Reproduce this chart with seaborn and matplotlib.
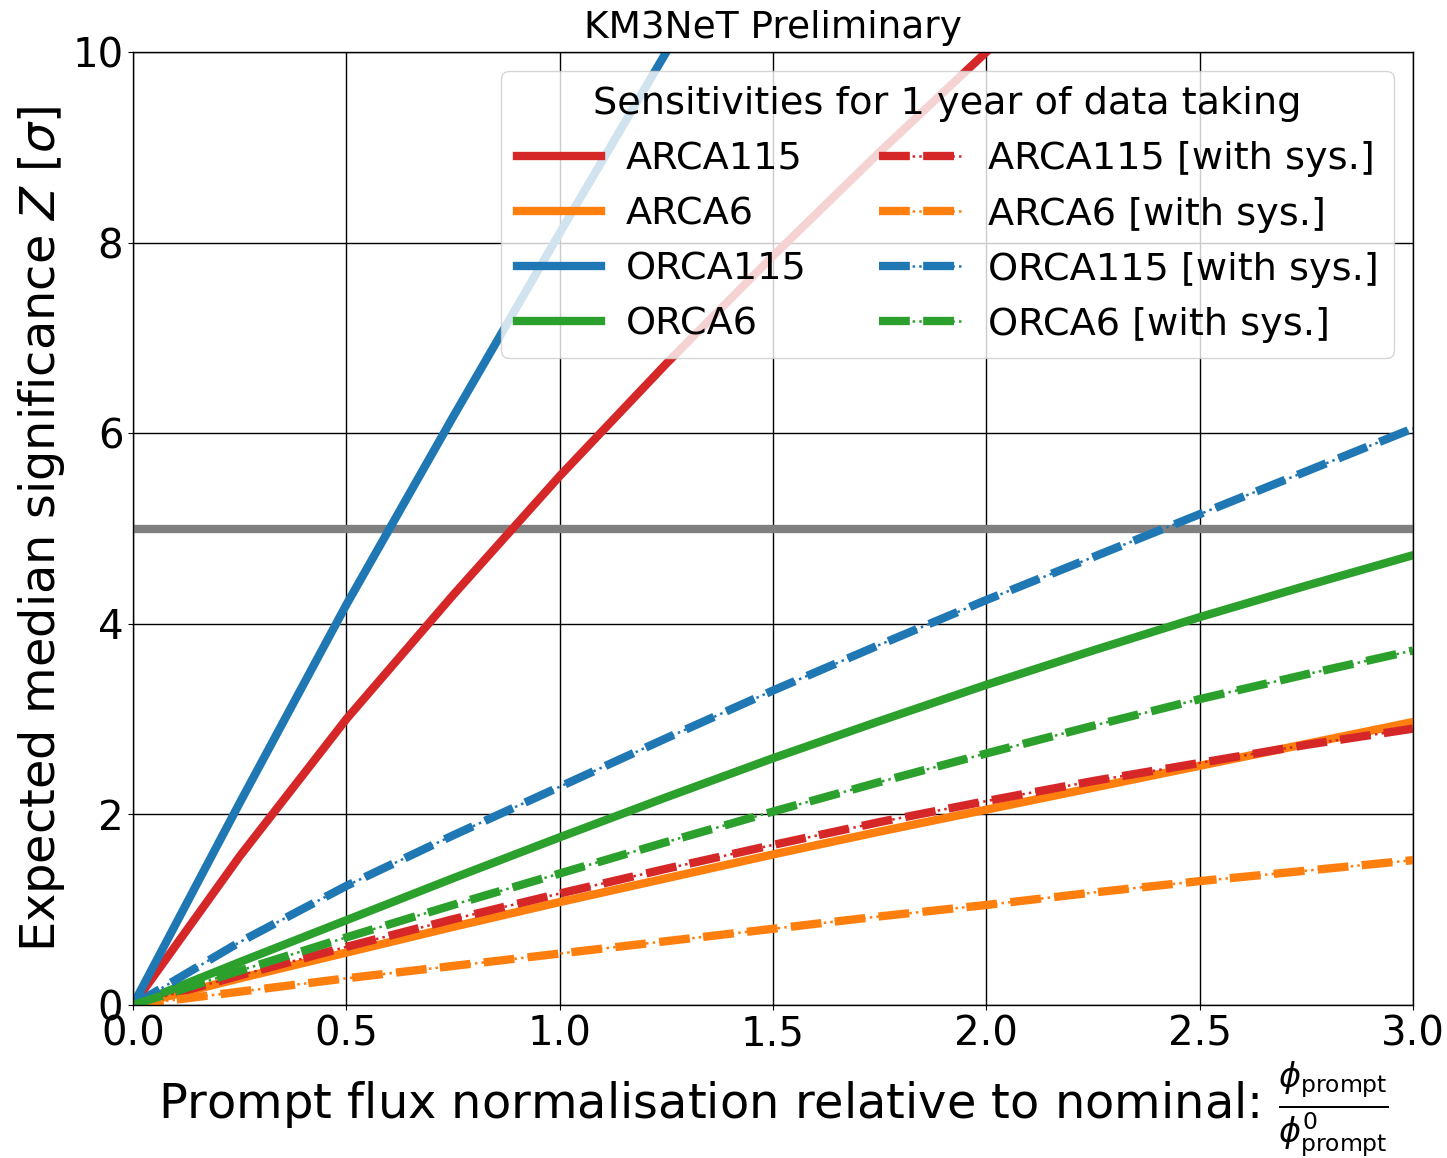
import numpy as np
import pandas as pd
import matplotlib
matplotlib.use("Agg")
import matplotlib.pyplot as plt
import seaborn as sns
from matplotlib.legend_handler import HandlerTuple

# ---- data ----
x_full = [0, 0.25, 0.5, 0.75, 1.0, 1.25, 1.5, 1.75, 2.0, 2.25, 2.5, 2.75, 3.0]
x_orca115 = [0, 0.25, 0.5, 0.75, 1.0, 1.25, 1.5]
x_arca115 = [0, 0.25, 0.5, 0.75, 1.0, 1.25, 1.5, 1.75, 2.0, 2.25]

arca115 = [0, 1.56, 3.00, 4.30, 5.55, 6.73, 7.86, 8.95, 10.0, 11.01]
arca6 = [0, 0.28, 0.55, 0.82, 1.08, 1.33, 1.58, 1.82, 2.05, 2.28, 2.51, 2.74, 2.97]
orca115 = [0, 2.12, 4.20, 6.17, 8.10, 10.0, 11.88]
orca6 = [0, 0.45, 0.89, 1.33, 1.76, 2.18, 2.59, 2.98, 3.36, 3.72, 4.07, 4.40, 4.72]

arca115_sys = [0, 0.31, 0.61, 0.90, 1.17, 1.43, 1.68, 1.92, 2.14, 2.35, 2.54, 2.73, 2.90]
arca6_sys = [0, 0.14, 0.28, 0.41, 0.54, 0.67, 0.80, 0.93, 1.05, 1.18, 1.30, 1.41, 1.52]
orca115_sys = [0, 0.66, 1.25, 1.78, 2.29, 2.80, 3.30, 3.78, 4.25, 4.70, 5.15, 5.60, 6.05]
orca6_sys = [0, 0.36, 0.71, 1.05, 1.38, 1.71, 2.03, 2.34, 2.64, 2.93, 3.21, 3.47, 3.72]

discovery_level = 5

labels_solid = ["ARCA115", "ARCA6", "ORCA115", "ORCA6"]
labels_sys = ["ARCA115 [with sys.]", "ARCA6 [with sys.]",
              "ORCA115 [with sys.]", "ORCA6 [with sys.]"]
colors = ["#d62728", "#ff7f0e", "#1f77b4", "#2ca02c"]

solid_series = [(x_arca115, arca115), (x_full, arca6), (x_orca115, orca115), (x_full, orca6)]
sys_series = [(x_full, arca115_sys), (x_full, arca6_sys), (x_full, orca115_sys), (x_full, orca6_sys)]

xticks = [0.0, 0.5, 1.0, 1.5, 2.0, 2.5, 3.0]
yticks = [0, 2, 4, 6, 8, 10]

# ---- plot ----
fig = plt.figure(figsize=(14.47, 11.58), dpi=100)
ax = fig.add_axes([0.0919, 0.1321, 0.9765 - 0.0919, 0.9551 - 0.1321])

ax.axhline(discovery_level, color="gray", lw=6, zorder=1.5)

solid_handles = []
for (xs, ys), c in zip(solid_series, colors):
    sns.lineplot(x=xs, y=ys, color=c, lw=6, ax=ax, legend=False, zorder=2)
    solid_handles.append(ax.lines[-1])

sys_handles = []
for (xs, ys), c in zip(sys_series, colors):
    sns.lineplot(x=xs, y=ys, color=c, lw=1.8, ls=":", ax=ax, legend=False, zorder=2)
    dot = ax.lines[-1]
    sns.lineplot(x=xs, y=ys, color=c, lw=6, ls="--", ax=ax, legend=False, zorder=2)
    dash = ax.lines[-1]
    sys_handles.append((dash, dot))

ax.set_xlim(0, 3)
ax.set_ylim(0, 10)
ax.set_xticks(xticks)
ax.set_xticklabels([f"{t:.1f}" for t in xticks])
ax.set_yticks(yticks)
ax.set_yticklabels([str(t) for t in yticks])
ax.tick_params(labelsize=29, colors="black")
ax.grid(True, color="black", lw=1.0)
ax.set_axisbelow(True)
for s in ax.spines.values():
    s.set_color("black")
    s.set_linewidth(1.0)

ax.set_xlabel(r"Prompt flux normalisation relative to nominal: $\frac{\phi_{\rm prompt}}{\phi^0_{\rm prompt}}$",
              fontsize=34.5)
ax.set_ylabel(r"Expected median significance $Z$ [$\sigma$]", fontsize=34.5)
ax.set_title("KM3NeT Preliminary", fontsize=27, pad=10)

handles = solid_handles + sys_handles
labels = labels_solid + labels_sys
leg = ax.legend(handles, labels, ncol=2, loc="upper right", fontsize=27.5,
                title="Sensitivities for 1 year of data taking", title_fontsize=27.5,
                handlelength=2.2, labelspacing=0.5, handletextpad=0.65,
                columnspacing=1.9,
                handler_map={tuple: HandlerTuple(ndivide=1)})
leg.set_zorder(5)

fig.savefig("out.png", dpi=100)
